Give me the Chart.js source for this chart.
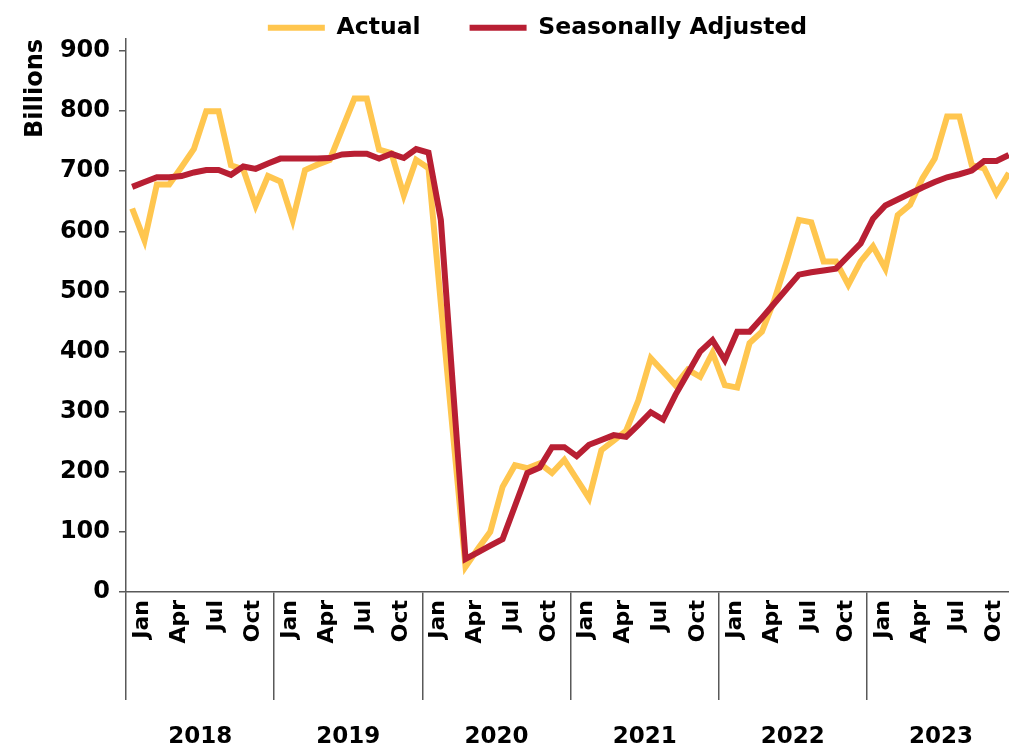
<!DOCTYPE html>
<html>
<head>
<meta charset="utf-8">
<script src="https://cdn.jsdelivr.net/npm/chart.js@4.4.0/dist/chart.umd.min.js"></script>
<style>
  html, body { margin: 0; padding: 0; background: #fff; overflow: hidden; }
  #wrap { width: 1015px; height: 750px; }
</style>
</head>
<body>
<div id="wrap"><canvas id="chart"></canvas></div>
<script>
// categories
const years = ['2018', '2019', '2020', '2021', '2022', '2023'];
const monthNames = ['Jan', 'Feb', 'Mar', 'Apr', 'May', 'Jun', 'Jul', 'Aug', 'Sep', 'Oct', 'Nov', 'Dec'];
const shownMonths = ['Jan', 'Apr', 'Jul', 'Oct'];
const yTicks = [0, 100, 200, 300, 400, 500, 600, 700, 800, 900];

// series values, billions, one row per year
const actual = [
    638, 585, 678, 678, 707, 737, 800, 800, 710, 703, 643, 692,
    683, 619, 702, 711, 719, 770, 821, 821, 736, 730, 660, 719,
    705, 480, 260, 42, 72, 100, 175, 211, 206, 214, 198, 220,
    188, 156, 236, 252, 268, 319, 389, 367, 344, 370, 358, 398,
    344, 340, 414, 433, 485, 550, 619, 615, 550, 550, 511, 550,
    575, 538, 627, 644, 688, 721, 791, 791, 710, 705, 663, 697
];
const seasonallyAdjusted = [
    674, 682, 690, 690, 692, 698, 702, 702, 694, 708, 704, 713,
    721, 721, 721, 721, 722, 728, 729, 729, 721, 729, 722, 737,
    731, 619, 335, 55, 66, 77, 88, 143, 198, 207, 241, 241,
    226, 245, 253, 261, 258, 278, 299, 287, 328, 364, 400, 419,
    386, 433, 433, 456, 480, 504, 528, 532, 535, 538, 559, 580,
    621, 643, 653, 663, 673, 682, 690, 695, 701, 717, 717, 727
];

const categories = [];
years.forEach(y => monthNames.forEach(m => categories.push(m + ' ' + y)));

const YELLOW = '#FFC64F';
const RED = '#B81F33';
const AXIS = '#595959';

Chart.defaults.font.family = '"DejaVu Sans", sans-serif';
Chart.defaults.font.weight = 'bold';
Chart.defaults.color = '#000';

// moves the legend row to where it sits in the original
const legendSpot = {
    id: 'legendSpot',
    afterLayout(chart) {
        chart.legend.left = 60;
        chart.legend.top = -33;
    }
};

new Chart(document.getElementById('chart').getContext('2d'), {
    type: 'line',
    data: {
        labels: categories,
        datasets: [{
            label: 'Actual',
            data: actual,
            borderColor: YELLOW,
            backgroundColor: YELLOW,
            borderWidth: 6,
            pointRadius: 0,
            order: 2
        }, {
            label: 'Seasonally Adjusted',
            data: seasonallyAdjusted,
            borderColor: RED,
            backgroundColor: RED,
            borderWidth: 6,
            pointRadius: 0,
            order: 1
        }]
    },
    options: {
        responsive: true,
        maintainAspectRatio: false,
        animation: false,
        layout: { padding: 0 },
        plugins: {
            tooltip: { enabled: false },
            legend: {
                position: 'top',
                maxHeight: 39,
                labels: {
                    boxWidth: 57,
                    boxHeight: 6,
                    padding: 49,
                    font: { size: 23.5, weight: 'bold' },
                    color: '#000',
                    sort: (a, b) => a.datasetIndex - b.datasetIndex,
                    generateLabels: chart => Chart.defaults.plugins.legend.labels.generateLabels(chart)
                        .map(item => Object.assign(item, { lineWidth: 0 }))
                }
            }
        },
        scales: {
            y: {
                min: 0,
                max: 920,
                afterBuildTicks: s => { s.ticks = yTicks.map(v => ({ value: v })); },
                afterFit: s => { s.width = 126; },
                ticks: {
                    font: { size: 24, weight: 'bold' },
                    padding: 9
                },
                grid: {
                    drawOnChartArea: false,
                    tickLength: 7,
                    color: AXIS,
                    lineWidth: 1.5
                },
                border: { display: true, color: AXIS, width: 1.5 },
                title: {
                    display: true,
                    text: 'Billions',
                    align: 'end',
                    font: { size: 24, weight: 'bold' },
                    padding: { top: 21, bottom: 0 }
                }
            },
            // month level, also carries the long year separators
            x: {
                offset: true,
                weight: 0,
                afterFit: s => { s.height = 60; },
                ticks: {
                    autoSkip: false,
                    minRotation: 90,
                    maxRotation: 90,
                    padding: -100,
                    labelOffset: 10,
                    font: { size: 22, weight: 'bold' },
                    callback: (v, i) => {
                        const m = monthNames[i % 12];
                        return shownMonths.includes(m) ? m : '';
                    }
                },
                grid: {
                    offset: true,
                    drawOnChartArea: false,
                    tickLength: 108,
                    lineWidth: 1.5,
                    color: c => (c.index % 12 === 0 ? AXIS : 'rgba(0,0,0,0)')
                },
                border: { display: true, color: AXIS, width: 1.5 }
            },
            // year level
            x2: {
                type: 'category',
                position: 'bottom',
                labels: categories,
                offset: true,
                weight: 1,
                afterFit: s => { s.height = 98; },
                grid: { display: false, drawTicks: false },
                border: { display: false },
                ticks: {
                    autoSkip: false,
                    minRotation: 0,
                    maxRotation: 0,
                    padding: 71,
                    labelOffset: 68,
                    font: { size: 23, weight: 'bold' },
                    callback: (v, i) => (i % 12 === 0 ? years[i / 12] : null)
                }
            }
        }
    },
    plugins: [legendSpot]
});
</script>
</body>
</html>
